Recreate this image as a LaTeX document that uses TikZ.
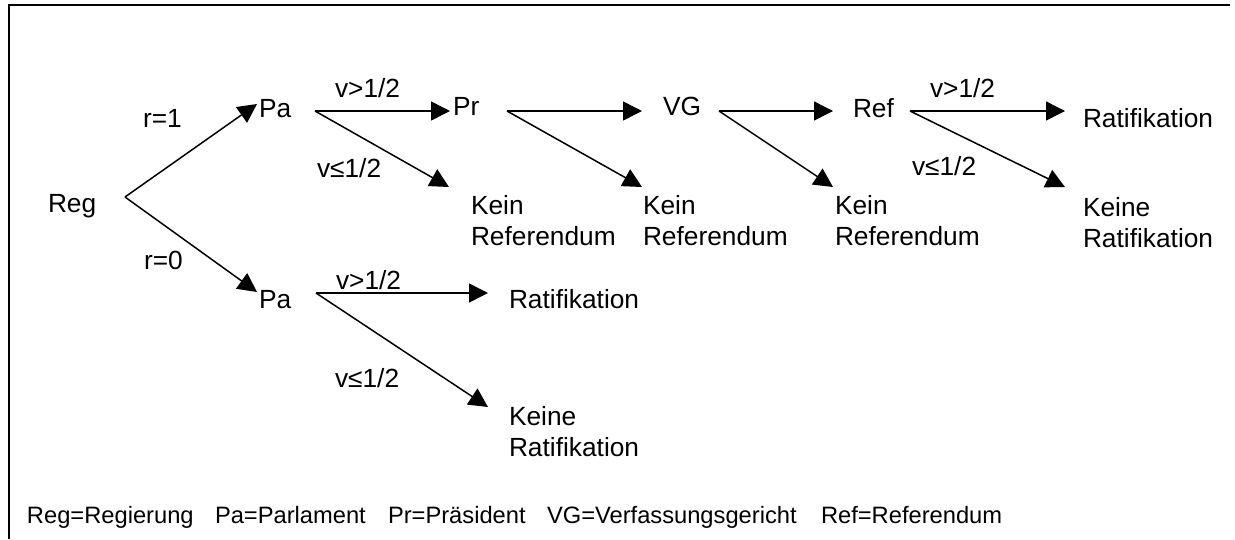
\documentclass[tikz,border=0pt]{standalone}
\usepackage{fontspec}
\setmainfont{Liberation Sans}
\usetikzlibrary{arrows.meta}
\tikzset{
  lbl/.style={inner sep=0pt, outer sep=0pt, anchor=base west, font=\fontsize{26.3}{31}\selectfont},
  twoline/.style={inner sep=0pt, outer sep=0pt, anchor=north west, align=left, font=\fontsize{26.3}{31}\selectfont},
  legend/.style={inner sep=0pt, outer sep=0pt, anchor=base west, font=\fontsize{23.7}{28}\selectfont},
  conn/.style={line width=1.5pt, -{Triangle[length=19pt, width=19pt]}},
  frame/.style={line width=2.6pt}
}
\begin{document}
\begin{tikzpicture}[x=1pt, y=-1pt]
\useasboundingbox (0,0) rectangle (1235,539);
% open frame: top and left edges
\draw[frame] (1230,5) -- (9,5) -- (9,539);

% decision nodes
\node[lbl] (reg) at (48,212) {Reg};
\node[lbl] (paU) at (259,117) {Pa};
\node[lbl] (paL) at (259,308) {Pa};
\node[lbl] (pr) at (453,115) {Pr};
\node[lbl] (vg) at (663,115) {VG};
\node[lbl] (ref) at (853,117) {Ref};

% outcomes
\node[twoline] (kr1) at (471,195) {Kein\\Referendum};
\node[twoline] (kr2) at (643,195) {Kein\\Referendum};
\node[twoline] (kr3) at (835,195) {Kein\\Referendum};
\node[lbl] (ratU) at (1083,127) {Ratifikation};
\node[twoline] (kratU) at (1083,197) {Keine\\Ratifikation};
\node[lbl] (ratL) at (509,308) {Ratifikation};
\node[twoline] (kratL) at (509,406) {Keine\\Ratifikation};

% branch labels
\node[lbl] (r1) at (143,127) {r=1};
\node[lbl] (r0) at (144,269) {r=0};
\node[lbl] (g1) at (335,97) {v>1/2};
\node[lbl] (l1) at (317,177) {v≤1/2};
\node[lbl] (g2) at (930,97) {v>1/2};
\node[lbl] (l2) at (912,175) {v≤1/2};
\node[lbl] (g3) at (336,289) {v>1/2};
\node[lbl] (l3) at (335,387) {v≤1/2};

% branch points and arrow ends
\coordinate (regOut) at (125,197);
\coordinate (paUin) at (257,104);
\coordinate (paLin) at (257,292);
\coordinate (paUout) at (315,111);
\coordinate (prIn) at (450,111);
\coordinate (kr1In) at (449,187);
\coordinate (prOut) at (507,111);
\coordinate (vgIn) at (642,111);
\coordinate (kr2In) at (642,187);
\coordinate (vgOut) at (719,111);
\coordinate (refIn) at (833,111);
\coordinate (kr3In) at (833,187);
\coordinate (refOut) at (910,111);
\coordinate (ratUin) at (1065,111);
\coordinate (kratUin) at (1065,187);
\coordinate (paLout) at (316,293);
\coordinate (ratLin) at (488,293);
\coordinate (kratLin) at (488,407);

% connectors
\draw[conn] (regOut) -- (paUin);
\draw[conn] (regOut) -- (paLin);
\draw[conn] (paUout) -- (prIn);
\draw[conn] (paUout) -- (kr1In);
\draw[conn] (prOut) -- (vgIn);
\draw[conn] (prOut) -- (kr2In);
\draw[conn] (vgOut) -- (refIn);
\draw[conn] (vgOut) -- (kr3In);
\draw[conn] (refOut) -- (ratUin);
\draw[conn] (refOut) -- (kratUin);
\draw[conn] (paLout) -- (ratLin);
\draw[conn] (paLout) -- (kratLin);

% legend
\node[legend] (lgReg) at (27,523) {Reg=Regierung};
\node[legend] (lgPa) at (215,523) {Pa=Parlament};
\node[legend] (lgPr) at (388,523) {Pr=Präsident};
\node[legend] (lgVG) at (547,523) {VG=Verfassungsgericht};
\node[legend] (lgRef) at (821,523) {Ref=Referendum};
\end{tikzpicture}
\end{document}
